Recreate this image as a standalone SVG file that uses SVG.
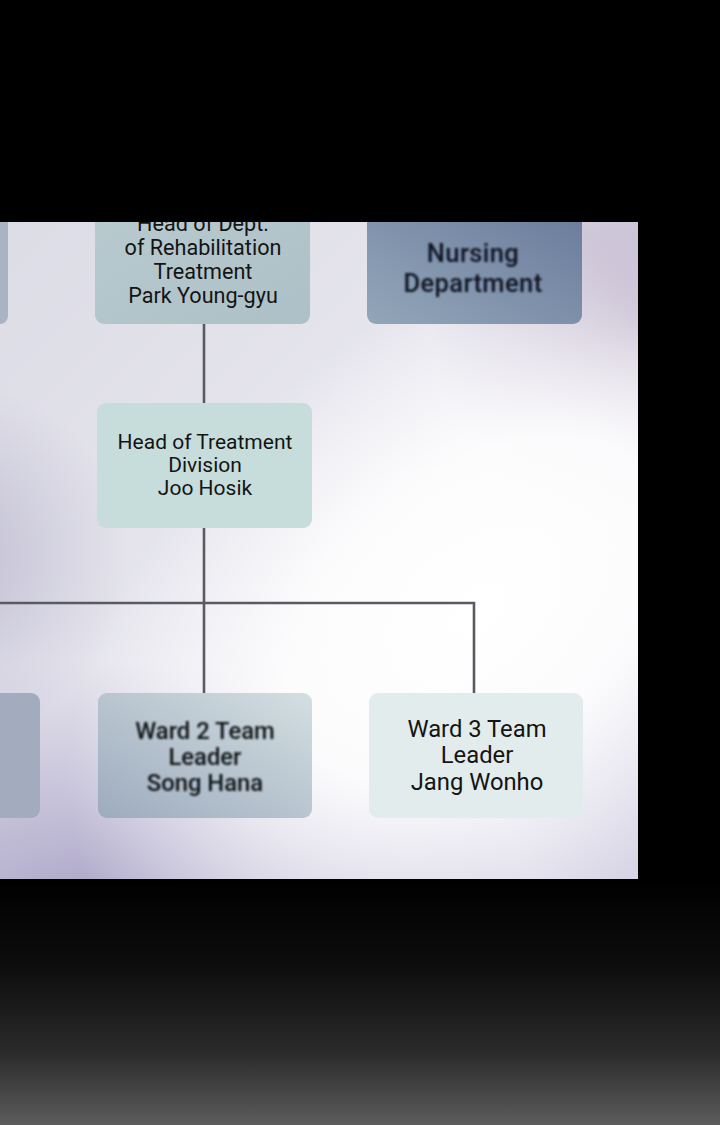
<svg xmlns="http://www.w3.org/2000/svg" width="720" height="1125" viewBox="0 0 720 1125">
<defs>
<style>
.t{font-family:Roboto,"Noto Sans","Liberation Sans",sans-serif;fill:#141414;text-anchor:middle}
.s20{font-size:21.6px}
.s19{font-size:21px}
.s22{font-size:23.8px}
.w2{font-weight:500;fill:#101418}
.big{font-size:25.5px;font-weight:500;fill:#0e1420;letter-spacing:0.4px}
.conn{stroke:#5a5a62;stroke-width:2.6;fill:none}
</style>
<linearGradient id="panelBase" x1="0" y1="0" x2="1" y2="1">
<stop offset="0" stop-color="#dcdce6"/>
<stop offset="0.5" stop-color="#e8e7ef"/>
<stop offset="1" stop-color="#d8d5e6"/>
</linearGradient>
<radialGradient id="whiteGlow" gradientUnits="userSpaceOnUse" cx="480" cy="610" r="330" gradientTransform="translate(480 610) rotate(-40) scale(1.45 0.9) translate(-480 -610)">
<stop offset="0" stop-color="#ffffff" stop-opacity="1"/>
<stop offset="0.45" stop-color="#ffffff" stop-opacity="0.9"/>
<stop offset="1" stop-color="#ffffff" stop-opacity="0"/>
</radialGradient>
<radialGradient id="purpleTR" gradientUnits="userSpaceOnUse" cx="640" cy="320" r="210">
<stop offset="0" stop-color="#a898b8" stop-opacity="0.75"/>
<stop offset="1" stop-color="#a898b8" stop-opacity="0"/>
</radialGradient>
<radialGradient id="purpleBL" gradientUnits="userSpaceOnUse" cx="80" cy="900" r="300" gradientTransform="translate(80 900) scale(1.5 0.8) translate(-80 -900)">
<stop offset="0" stop-color="#9b93bd" stop-opacity="0.75"/>
<stop offset="1" stop-color="#9b93bd" stop-opacity="0"/>
</radialGradient>
<radialGradient id="purpleL" gradientUnits="userSpaceOnUse" cx="-50" cy="560" r="180">
<stop offset="0" stop-color="#aaa6c2" stop-opacity="0.6"/>
<stop offset="1" stop-color="#aaa6c2" stop-opacity="0"/>
</radialGradient>
<linearGradient id="bottomFade" x1="0" y1="0" x2="0" y2="1">
<stop offset="0" stop-color="#000"/>
<stop offset="0.35" stop-color="#0d0d0d"/>
<stop offset="0.7" stop-color="#2a2a2a"/>
<stop offset="1" stop-color="#5c5c5c"/>
</linearGradient>
<linearGradient id="nurse" x1="0" y1="1" x2="1" y2="0">
<stop offset="0" stop-color="#92a6b9"/>
<stop offset="1" stop-color="#69799a"/>
</linearGradient>
<linearGradient id="ward2" x1="0" y1="1" x2="1" y2="0">
<stop offset="0" stop-color="#9eabbe"/>
<stop offset="1" stop-color="#d3dfe1"/>
</linearGradient>
<linearGradient id="dept" x1="0" y1="0" x2="1" y2="1">
<stop offset="0" stop-color="#b9cbcf"/>
<stop offset="1" stop-color="#adc0c7"/>
</linearGradient>
<clipPath id="panelClip"><rect x="0" y="222" width="638" height="657"/></clipPath>
<filter id="soft" x="-10%" y="-10%" width="120%" height="120%"><feGaussianBlur stdDeviation="0.9"/></filter>
</defs>
<rect x="0" y="0" width="720" height="1125" fill="#000"/>
<rect x="0" y="880" width="720" height="245" fill="url(#bottomFade)"/>
<g clip-path="url(#panelClip)">
<rect x="0" y="222" width="638" height="657" fill="url(#panelBase)"/>
<rect x="0" y="222" width="638" height="657" fill="url(#purpleTR)"/>
<rect x="0" y="222" width="638" height="657" fill="url(#purpleBL)"/>
<rect x="0" y="222" width="638" height="657" fill="url(#purpleL)"/>
<rect x="0" y="222" width="638" height="657" fill="url(#whiteGlow)"/>
<g id="connectors">
<line class="conn" x1="204" y1="324" x2="204" y2="404"/>
<line class="conn" x1="204" y1="528" x2="204" y2="693"/>
<polyline class="conn" points="0,603 474,603 474,693"/>
</g>
<g id="node-left-top"><rect x="-20" y="200" width="28" height="124" rx="8" fill="#a9b3c2"/></g>
<g id="node-dept-rehab">
<rect x="95" y="196" width="215" height="128" rx="9" fill="url(#dept)"/>
<text class="t s20" x="203" y="231">Head of Dept.</text>
<text class="t s20" x="203" y="255">of Rehabilitation</text>
<text class="t s20" x="203" y="279">Treatment</text>
<text class="t s20" x="203" y="303">Park Young-gyu</text>
</g>
<g id="node-nursing">
<rect x="367" y="196" width="215" height="128" rx="9" fill="url(#nurse)"/>
<g filter="url(#soft)">
<text class="t big" x="473" y="262">Nursing</text>
<text class="t big" x="473" y="292">Department</text>
</g>
</g>
<g id="node-treatment">
<rect x="97" y="403" width="215" height="125" rx="9" fill="#c7dddc"/>
<text class="t s19" x="205" y="449">Head of Treatment</text>
<text class="t s19" x="205" y="472">Division</text>
<text class="t s19" x="205" y="495">Joo Hosik</text>
</g>
<g id="node-ward1"><rect x="-20" y="693" width="60" height="125" rx="9" fill="#a3abbf"/></g>
<g id="node-ward2">
<rect x="98" y="693" width="214" height="125" rx="9" fill="url(#ward2)"/>
<g filter="url(#soft)">
<text class="t s22 w2" x="205" y="739">Ward 2 Team</text>
<text class="t s22 w2" x="205" y="765">Leader</text>
<text class="t s22 w2" x="205" y="791">Song Hana</text>
</g>
</g>
<g id="node-ward3">
<rect x="369" y="693" width="214" height="125" rx="9" fill="#e3ecec"/>
<text class="t s22" x="477" y="737">Ward 3 Team</text>
<text class="t s22" x="477" y="763">Leader</text>
<text class="t s22" x="477" y="790">Jang Wonho</text>
</g>
</g>
</svg>
